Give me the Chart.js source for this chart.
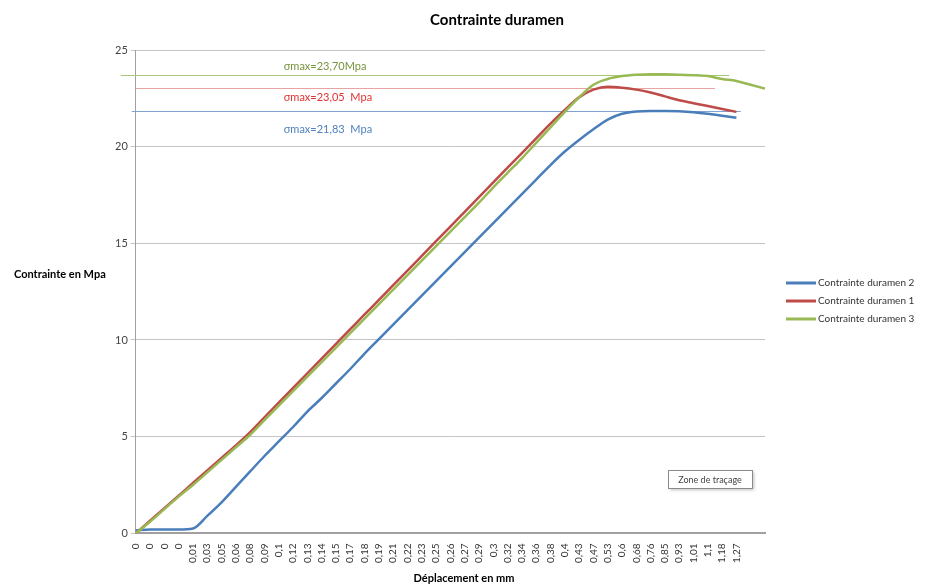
<!DOCTYPE html>
<html>
<head>
<meta charset="utf-8">
<script src="https://cdn.jsdelivr.net/npm/chart.js@4.4.0/dist/chart.umd.min.js"></script>
<style>
  html, body { margin: 0; padding: 0; background: #fff; }
  #wrap { width: 930px; height: 587px; }
</style>
</head>
<body>
<div id="wrap"><canvas id="chart" width="930" height="587"></canvas></div>
<script>
// x categories (displacement in mm), last two are unlabelled
const xLabels = ['0', '0', '0', '0', '0,01', '0,03', '0,05', '0,06', '0,08', '0,09', '0,1', '0,12', '0,13', '0,14', '0,15',
    '0,17', '0,18', '0,19', '0,21', '0,22', '0,23', '0,25', '0,26', '0,27', '0,29', '0,3', '0,32', '0,34', '0,36', '0,38',
    '0,4', '0,43', '0,47', '0,53', '0,6', '0,68', '0,76', '0,85', '0,93', '1,01', '1,1', '1,18', '1,27', '', ''];

// stress values in MPa
const duramen2 = [0.15, 0.2, 0.2, 0.2, 0.25, 0.9, 1.6, 2.4, 3.2, 4.0, 4.75, 5.5, 6.3, 7.0, 7.75, 8.5, 9.3, 10.05, 10.8,
    11.55, 12.3, 13.05, 13.8, 14.55, 15.3, 16.05, 16.8, 17.55, 18.3, 19.05, 19.75, 20.35, 20.9, 21.4, 21.7, 21.82, 21.85,
    21.85, 21.83, 21.78, 21.7, 21.6, 21.5];
const duramen1 = [0, 0.65, 1.3, 1.95, 2.6, 3.25, 3.9, 4.55, 5.24, 6.0, 6.76, 7.52, 8.28, 9.04, 9.8, 10.56, 11.32, 12.07,
    12.84, 13.59, 14.35, 15.11, 15.87, 16.63, 17.39, 18.15, 18.91, 19.67, 20.43, 21.19, 21.9, 22.55, 22.95, 23.1, 23.05,
    22.95, 22.8, 22.6, 22.4, 22.25, 22.1, 21.95, 21.8];
const duramen3 = [0, 0.6, 1.25, 1.9, 2.5, 3.15, 3.8, 4.45, 5.1, 5.85, 6.6, 7.35, 8.1, 8.85, 9.6, 10.35, 11.1, 11.85, 12.6,
    13.35, 14.1, 14.85, 15.6, 16.35, 17.1, 17.9, 18.65, 19.4, 20.2, 21.0, 21.8, 22.55, 23.2, 23.5, 23.65, 23.72, 23.75,
    23.75, 23.72, 23.7, 23.65, 23.5, 23.4, 23.2, 23.0];

// maximum stress markers
const sigmaMax = [21.83, 23.05, 23.70];
const sigmaText = ['σmax=21,83  Mpa', 'σmax=23,05  Mpa', 'σmax=23,70Mpa'];

const FONT = 'Lato, "Open Sans", sans-serif';
const colors = {
    blue: '#4a7ebb',
    red: '#be4b48',
    green: '#98b954'
};

// Draws the titles, the custom legend, the σmax lines and the small tooltip box
const extras = {
    id: 'extras',
    beforeDatasetsDraw(chart) {
        const ctx = chart.ctx;
        const x = chart.scales.x;
        const y = chart.scales.y;
        const left = chart.chartArea.left;
        // [colour, start offset from axis, end category index]
        const lineStyle = [
            ['#7fa2d0', -4, 42.3],
            ['#e8a3a3', 0, 40.5],
            ['#a9c878', -15, 41.5]
        ];
        ctx.save();
        ctx.lineWidth = 1.2;
        sigmaMax.forEach((v, i) => {
            const py = Math.round(y.getPixelForValue(v)) + 0.5;
            ctx.strokeStyle = lineStyle[i][0];
            ctx.beginPath();
            ctx.moveTo(left + lineStyle[i][1], py);
            ctx.lineTo(x.getPixelForValue(lineStyle[i][2]), py);
            ctx.stroke();
        });
        ctx.restore();
    },
    afterDraw(chart) {
        const ctx = chart.ctx;
        const area = chart.chartArea;
        const y = chart.scales.y;
        ctx.save();

        // chart title
        ctx.fillStyle = '#000';
        ctx.textAlign = 'center';
        ctx.textBaseline = 'middle';
        ctx.font = 'bold 15px ' + FONT;
        ctx.fillText('Contrainte duramen', 497, 20);

        // axis titles
        ctx.font = 'bold 11px ' + FONT;
        ctx.fillText('Déplacement en mm', 464, 578);
        ctx.textAlign = 'left';
        ctx.fillText('Contrainte en Mpa', 14, 274);

        // σmax labels
        const textColors = ['#4f81bd', '#e03030', '#77933c'];
        const textShift = [18, 10, -9];
        ctx.font = '11px ' + FONT;
        sigmaMax.forEach((v, i) => {
            ctx.fillStyle = textColors[i];
            ctx.fillText(sigmaText[i], area.left + 148, y.getPixelForValue(v) + textShift[i]);
        });

        // legend
        ctx.font = '10px ' + FONT;
        chart.data.datasets.forEach((ds, i) => {
            const ly = 283 + i * 18;
            ctx.strokeStyle = ds.borderColor;
            ctx.lineWidth = 3;
            ctx.beginPath();
            ctx.moveTo(786, ly);
            ctx.lineTo(816, ly);
            ctx.stroke();
            ctx.fillStyle = '#333';
            ctx.fillText(ds.label, 818, ly);
        });

        // "Zone de traçage" tooltip
        ctx.shadowColor = 'rgba(0,0,0,0.25)';
        ctx.shadowOffsetX = 2;
        ctx.shadowOffsetY = 2;
        ctx.shadowBlur = 3;
        ctx.fillStyle = '#fff';
        ctx.fillRect(668, 470, 84, 18);
        ctx.shadowColor = 'transparent';
        ctx.strokeStyle = '#8a8a8a';
        ctx.lineWidth = 1;
        ctx.strokeRect(668.5, 470.5, 84, 18);
        ctx.fillStyle = '#444';
        ctx.textAlign = 'center';
        ctx.font = '9px ' + FONT;
        ctx.fillText('Zone de traçage', 710, 480);

        ctx.restore();
    }
};

function makeDataset(label, data, color, order) {
    return {
        label: label,
        data: data,
        borderColor: color,
        backgroundColor: color,
        borderWidth: 2.5,
        pointRadius: 0,
        tension: 0.4,
        cubicInterpolationMode: 'monotone',
        fill: false,
        order: order
    };
}

const ctx = document.getElementById('chart').getContext('2d');
new Chart(ctx, {
    type: 'line',
    data: {
        labels: xLabels,
        datasets: [
            makeDataset('Contrainte duramen 2', duramen2, colors.blue, 2),
            makeDataset('Contrainte duramen 1', duramen1, colors.red, 1),
            makeDataset('Contrainte duramen 3', duramen3, colors.green, 0)
        ]
    },
    options: {
        responsive: false,
        animation: false,
        layout: {
            padding: { top: 50, right: 165, bottom: 22, left: 112 }
        },
        plugins: {
            legend: { display: false },
            title: { display: false },
            tooltip: { enabled: false }
        },
        scales: {
            x: {
                type: 'category',
                offset: false,
                grid: { display: false },
                border: { display: true, color: '#a0a0a0', width: 2 },
                ticks: {
                    autoSkip: false,
                    maxRotation: 90,
                    minRotation: 90,
                    padding: 2,
                    color: '#333',
                    font: { family: FONT, size: 10 }
                }
            },
            y: {
                min: 0,
                max: 25,
                grid: { color: '#c4c4c4', tickLength: 5 },
                border: { display: true, color: '#a0a0a0' },
                ticks: {
                    stepSize: 5,
                    padding: 3,
                    color: '#444',
                    font: { family: FONT, size: 11 }
                }
            }
        }
    },
    plugins: [extras]
});
</script>
</body>
</html>
